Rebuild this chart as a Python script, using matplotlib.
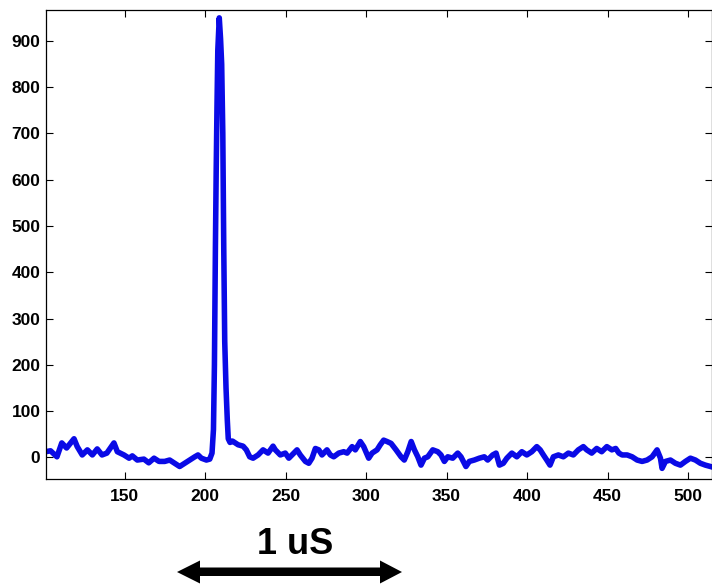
import matplotlib.pyplot as plt
from matplotlib.patches import Polygon

# sample index vs. detector counts
x = [101, 104, 108, 111, 114, 118.6, 120.6, 123.7, 126.9, 130, 133, 136, 139,
     143.4, 145.5, 149.6, 152.8, 154.8, 157.9, 162, 165, 168.3, 171.4, 174.9,
     178, 181.1, 184.2, 187.3, 190.5, 193.6, 195.6, 197.7, 200.8, 202.9, 204.3,
     205.2, 205.8, 206.4, 206.9, 207.4, 207.9, 208.8, 209.6, 210.3, 211.0,
     211.6, 212.2, 213.0, 213.8, 214.4, 215.5, 217, 220.5, 223.6, 225.6, 227.7,
     229.8, 232.9, 236, 239.1, 242.2, 243.6, 246.7, 249.8, 252, 254, 257.1,
     259.1, 262.3, 264.4, 266.4, 268.5, 270.6, 272.6, 275.7, 277.8, 279.9, 283,
     286.1, 288.2, 291.3, 293.3, 296.4, 298.5, 301.6, 303.7, 306.8, 308.8,
     310.9, 313, 315.5, 318.6, 321.7, 323.7, 325.9, 328, 330, 332.1, 334.1,
     336.2, 338.3, 341.4, 344.5, 346.5, 348.6, 350.7, 353.8, 356.9, 358.9, 362,
     364.1, 367.2, 370.3, 373.4, 375.5, 378.6, 380.7, 382.8, 385.2, 387.4,
     390.5, 393.6, 396.7, 399.8, 402.9, 406, 408.1, 410.1, 412.2, 414.2, 416.3,
     419.4, 422.5, 425.6, 428.7, 431.8, 434.9, 437, 440.1, 443.2, 446.3, 449.5,
     452.6, 455, 457, 459, 462.1, 465.2, 468.3, 471.4, 474.5, 477.6, 480.7,
     482.8, 483.8, 485.9, 489, 492.1, 495.2, 498.3, 501.4, 504.5, 507.6, 510.7,
     513.8, 516]
y = [12, 14, 1, 31, 20, 40, 23, 5, 16, 5, 18, 5, 9,
     31, 12, 5, -2, 3, -6, -4, -12, -2, -9, -9,
     -6, -13, -20, -13, -6, 1, 5, -2, -6, -4, 9,
     60, 200, 450, 620, 760, 880, 950, 905, 850, 700,
     450, 250, 150, 80, 40, 32, 35, 27, 24, 16, 1,
     -2, 5, 16, 9, 24, 16, 5, 9, -2, 5, 16,
     5, -9, -13, -2, 19, 16, 5, 16, 5, 1, 9,
     12, 9, 23, 16, 34, 23, -2, 9, 16, 27,
     37, 34, 30, 16, 1, -6, 12, 34, 16, 1, -17,
     -2, 1, 16, 12, 5, -9, 1, -2, 9, 1, -20,
     -9, -6, -2, 1, -6, 5, 9, -17, -13, -2,
     9, 1, 12, 5, 12, 23, 16, 5, -6, -17, 1,
     5, 1, 9, 5, 16, 23, 16, 9, 19, 12, 23,
     16, 19, 9, 5, 5, 1, -6, -9, -6, 1, 16,
     -2, -24, -9, -6, -13, -17, -9, -2, -6, -13, -17,
     -20, -22]

xticks = [150, 200, 250, 300, 350, 400, 450, 500]
yticks = [0, 100, 200, 300, 400, 500, 600, 700, 800, 900]

plt.rcParams['font.family'] = ['Liberation Sans', 'DejaVu Sans']

fig = plt.figure(figsize=(7.12, 5.85), dpi=100)
ax = fig.add_axes([46/712, 1-479/585, 665.5/712, 469/585])

ax.plot(x, y, color='#0a0ae6', lw=4.0, solid_joinstyle='round')
ax.set_xlim(101.2, 514.5)
ax.set_ylim(-47, 967)
ax.set_xticks(xticks)
ax.set_yticks(yticks)
ax.tick_params(direction='in', top=True, right=True, length=5, width=0.8,
               labelsize=12.5, pad=4)
ax.tick_params(axis='x', pad=7)
for lab in ax.get_xticklabels() + ax.get_yticklabels():
    lab.set_fontweight('bold')
for s in ax.spines.values():
    s.set_linewidth(0.9)

# time scale marker under the plot
fig.text(295/712, 1-545/585, '1 uS', fontsize=26, fontweight='bold',
         ha='center', va='center')
pts = [(177, 572), (200, 560.5), (200, 567.5), (380, 567.5), (380, 560.5),
       (402, 572), (380, 583.5), (380, 576), (200, 576), (200, 583.5)]
arrow = Polygon([(px/712, 1-py/585) for px, py in pts], closed=True,
                facecolor='black', edgecolor='none', transform=fig.transFigure)
fig.add_artist(arrow)

fig.savefig('out.png', dpi=100)
